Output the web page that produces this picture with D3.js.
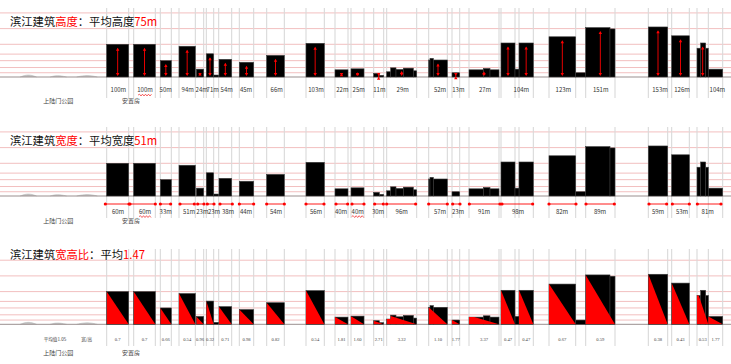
<!DOCTYPE html>
<html><head><meta charset="utf-8">
<script src="https://cdn.jsdelivr.net/npm/d3@7/dist/d3.min.js"></script>
<style>html,body{margin:0;padding:0;background:#fff;}svg{display:block;}</style>
</head><body>
<svg id="c" width="731" height="364"></svg>
<script>
// ---------- DATA (positions along the river bank in m, heights in m) ----------
const titlePrefix = "滨江建筑";
const titleKeys   = ["高度", "宽度", "宽高比"];
const titleMids   = ["：平均高度", "：平均宽度", "：平均"];
const titleAvgs   = ["75m", "51m", "1.47"];

// roof outline pieces of the main buildings [start, end, height]
const roofSegments = [
  [320,386,100],[401,466,100],[481,514,50],[537,586,94],[589,611,24],[619,641,71],
  [657,695,54],[718,761,45],[800,853,66],[918,973,103],[1005,1044,22],[1053,1092,25],
  [1121,1138,11],[1138,1151,5],
  [1160,1172,16],[1172,1188,28],[1188,1210,23],[1210,1240,27],[1240,1250,19],
  [1286,1290,52],[1290,1300,57],[1300,1342,52],[1356,1379,13],
  [1407,1450,22],[1450,1470,26],[1470,1497,22],
  [1503,1545,104],[1557,1600,104],[1647,1727,123],
  [1757,1830,151],[1830,1845,147],[1945,2003,153],[2015,2068,126],
  [2091,2102,88],[2102,2117,104],[2117,2125,88]
];
// low wings attached to buildings [start, end, height]
const annexes = [[641,656,6],[1545,1557,24],[1727,1757,13],[2125,2168,24]];

// measured towers [start, end, height]
const towers = [
  [320,386,100],[401,466,100],[481,514,50],[537,586,94],[589,611,24],[619,641,71],
  [657,695,54],[718,761,45],[800,853,66],[918,973,103],[1005,1044,22],[1053,1092,25],
  [1121,1151,11],[1160,1250,29],[1286,1342,52],[1356,1379,13],[1407,1497,27],
  [1503,1545,104],[1557,1600,104],[1647,1727,123],[1757,1845,151],[1945,2003,153],
  [2015,2068,126],[2091,2125,104]
];

const heightLabels = ["100m","100m","50m","94m","24m","71m","54m","45m","66m","103m","22m","25m",
  "11m","29m","52m","13m","27m","104m","123m","151m","153m","126m","104m"];
const heightLabelAt = [355,435,497,563,605,638,680,738,830,948,1027,1076,
  1138,1208,1320,1375,1455,1564,1690,1802,1980,2046,2152];

const widthLabels = ["60m","60m","33m","51m","23m","23m","38m","44m","54m","56m","40m","40m",
  "30m","96m","57m","23m","91m","98m","82m","89m","59m","53m","81m"];
const widthSpans = [[316,387],[390,466],[481,512],[540,583],[593,612],[622,642],[660,697],
  [718,761],[800,853],[918,972],[1008,1043],[1056,1092],[1124,1150],[1160,1247],[1286,1342],
  [1358,1380],[1408,1500],[1506,1598],[1647,1728],[1758,1843],[1947,2000],[2017,2068],[2092,2163]];
const widthLabelAt = [354,435,497,567,607,642,684,738,828,948,1023,1073,1134,1205,1320,1374,
  1452,1554,1686,1800,1974,2046,2123];

const ratioLabels = ["0.7","0.7","0.66","0.54","0.96","0.32","0.71","0.98","0.82","0.54","1.81","1.60",
  "2.71","3.32","1.10","1.77","3.37","0.47","0.47","0.67","0.59","0.38","0.43","0.53","1.77"];
const ratioNotes = [["平均值1.05",165],["宽/高",260]];

const landmarks = [["上陆门公园",175],["安置房",393]];
const gridLevels = [13, 29, 50, 70, 100, 148, 196];
const hills = [[60,85,110,9],[150,172,200,6],[230,262,292,7]]; // start, peak, end, height

// ---------- LAYOUT ----------
const svg = d3.select("#c");
const x = d3.scaleLinear().domain([0, 2193]).range([0, 731]);
const panels = [
  {base:77,    title:26,    vTop:8,   vBot:98,  lab:92.3,  land:102.5},
  {base:196,   title:144.5, vTop:127, vBot:218, lab:213.8, land:222.5},
  {base:324.3, title:258.5, vTop:249, vBot:346, lab:340.6, land:354.5}
];
const FONT = "'Noto Sans CJK SC','Noto Sans',sans-serif";
const RED = "#f00";

const ratioTowers = towers.concat([annexes[annexes.length-1]]);
const edges = [];
towers.forEach(t => { edges.push(t[0], t[1]); });
annexes.forEach(a => edges.push(a[1]));
edges.sort((a,b)=>a-b);
const uniqEdges = edges.filter((e,i) => i === 0 || e - edges[i-1] > 4);

const wavy = (g, x0, x1, y) => {
  let d = `M${x0},${y}`; let up = true;
  for (let xx = x0 + 1.5; xx <= x1; xx += 1.5) { d += `L${xx},${y + (up ? -0.9 : 0.9)}`; up = !up; }
  g.append("path").attr("d", d).attr("fill","none").attr("stroke","#e00").attr("stroke-width",0.6);
};

panels.forEach((p, pi) => {
  const y = d3.scaleLinear().domain([0, 200]).range([p.base, p.base - 65.4]);
  const g = svg.append("g");

  // red horizontal guide lines
  g.selectAll("line.grid").data(gridLevels).join("line")
    .attr("x1", 0).attr("x2", 731)
    .attr("y1", d => y(d)).attr("y2", d => y(d))
    .attr("stroke", "#f0b8b8").attr("stroke-width", 0.9);

  // vertical gray building edge lines
  g.selectAll("line.edge").data(uniqEdges).join("line")
    .attr("x1", d => x(d)).attr("x2", d => x(d))
    .attr("y1", p.vTop).attr("y2", p.vBot)
    .attr("stroke", "#d9d9d9").attr("stroke-width", 1.1);

  // hills
  const hillLine = d3.line().x(d => x(d[0])).y(d => y(d[1])).curve(d3.curveBasis);
  g.selectAll("path.hill").data(hills).join("path")
    .attr("d", h => hillLine([[h[0],0],[h[0],0],[h[1],h[3]],[h[2],0],[h[2],0]]))
    .attr("fill", "#c4c4c4").attr("stroke", "#b0b0b0").attr("stroke-width", 0.5);

  // ground line
  g.append("line").attr("x1", 0).attr("x2", 731).attr("y1", p.base).attr("y2", p.base)
    .attr("stroke", "#9a8f8f").attr("stroke-width", 1);

  // silhouettes
  const allRoofs = roofSegments.concat(annexes);
  g.selectAll("rect.bld").data(allRoofs).join("rect")
    .attr("x", d => x(d[0])).attr("width", d => x(d[1]) - x(d[0]))
    .attr("y", d => y(d[2])).attr("height", d => p.base - y(d[2]))
    .attr("fill", "#000").attr("stroke", "#3a3a3a").attr("stroke-width", 0.6);

  // title
  const t = g.append("text").attr("x", 10).attr("y", p.title)
    .attr("font-family", FONT).attr("font-size", 11.3);
  t.append("tspan").attr("fill", "#111").text(titlePrefix);
  t.append("tspan").attr("fill", RED).text(titleKeys[pi]);
  t.append("tspan").attr("fill", "#111").text(titleMids[pi]);
  t.append("tspan").attr("fill", RED).text(titleAvgs[pi]);

  // landmarks
  g.selectAll("text.land").data(landmarks).join("text")
    .attr("x", d => x(d[1])).attr("y", p.land).attr("text-anchor", "middle")
    .attr("font-family", FONT).attr("font-size", 6).attr("fill", "#444").text(d => d[0]);

  if (pi === 0) {
    // height arrows
    towers.forEach(tw => {
      const cx = x((tw[0] + tw[1]) / 2);
      const top = y(tw[2]) + 3.4, bot = p.base - 1;
      g.append("line").attr("x1", cx).attr("x2", cx).attr("y1", top + 1).attr("y2", bot - 1)
        .attr("stroke", RED).attr("stroke-width", 0.9);
      g.append("path").attr("d", `M${cx},${top}L${cx-1.7},${top+3}L${cx+1.7},${top+3}Z`).attr("fill", RED);
      g.append("path").attr("d", `M${cx},${bot}L${cx-1.7},${bot-3}L${cx+1.7},${bot-3}Z`).attr("fill", RED);
    });
    g.selectAll("text.lab").data(heightLabels).join("text")
      .attr("x", (d,i) => x(heightLabelAt[i])).attr("y", p.lab).attr("text-anchor", "middle")
      .attr("font-family", FONT).attr("font-size", 6).attr("fill", "#333").text(d => d);
    wavy(g, x(heightLabelAt[1]) - 7, x(heightLabelAt[1]) + 7, p.lab + 2.8);
  }

  if (pi === 1) {
    const wy = p.base + 8;
    widthSpans.forEach(s => {
      g.append("line").attr("x1", x(s[0])).attr("x2", x(s[1])).attr("y1", wy).attr("y2", wy)
        .attr("stroke", RED).attr("stroke-width", 0.9);
      [s[0], s[1]].forEach(e => g.append("circle").attr("cx", x(e)).attr("cy", wy).attr("r", 1.6).attr("fill", RED));
    });
    g.selectAll("text.lab").data(widthLabels).join("text")
      .attr("x", (d,i) => x(widthLabelAt[i])).attr("y", p.lab)
      .attr("text-anchor", "middle").attr("font-family", FONT).attr("font-size", 6)
      .attr("fill", "#333").text(d => d);
    [1, 11].forEach(i => {
      const c = x(widthLabelAt[i]);
      wavy(g, c - 6, c + 6, p.lab + 2.8);
    });
  }

  if (pi === 2) {
    const clipId = "sil";
    const cp = svg.append("clipPath").attr("id", clipId);
    cp.selectAll("rect").data(allRoofs).join("rect")
      .attr("x", d => x(d[0])).attr("width", d => x(d[1]) - x(d[0]))
      .attr("y", d => y(d[2])).attr("height", d => p.base - y(d[2]));
    g.append("g").attr("clip-path", `url(#${clipId})`)
      .selectAll("path.tri").data(ratioTowers).join("path")
      .attr("d", d => `M${x(d[0])},${y(d[2])}L${x(d[0])},${p.base}L${x(d[1])},${p.base}Z`)
      .attr("fill", RED);
    g.selectAll("text.lab").data(ratioLabels).join("text")
      .attr("x", (d,i) => x((ratioTowers[i][0] + ratioTowers[i][1]) / 2)).attr("y", p.lab)
      .attr("text-anchor", "middle").attr("font-family", "'Liberation Serif',serif")
      .attr("font-size", 4.6).attr("fill", "#444").text(d => d);
    g.selectAll("text.note").data(ratioNotes).join("text")
      .attr("x", d => x(d[1])).attr("y", p.lab).attr("text-anchor", "middle")
      .attr("font-family", FONT).attr("font-size", 4.6).attr("fill", "#444").text(d => d[0]);
  }
});
</script>
</body></html>
